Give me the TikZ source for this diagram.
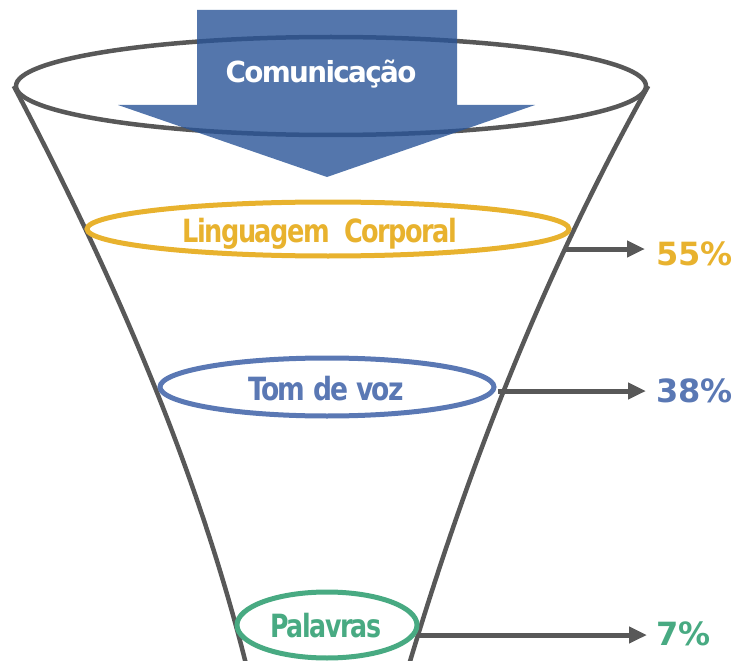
\documentclass[tikz,border=0pt]{standalone}
\usepackage{fontspec}
\setmainfont{DejaVu Sans}
\newfontfamily\tightfont[LetterSpace=-6]{DejaVu Sans}
\usetikzlibrary{shapes.geometric,arrows.meta}
\definecolor{fgray}{RGB}{88,88,88}
\definecolor{arrblue}{RGB}{41,84,151}
\definecolor{cyel}{RGB}{232,178,46}
\definecolor{cblue}{RGB}{90,120,180}
\definecolor{cgreen}{RGB}{72,170,130}
\begin{document}
\begin{tikzpicture}[x=1pt,y=-1pt,
  funnel/.style={draw=fgray,line width=4.5pt},
  ring/.style={ellipse,draw,line width=5pt,inner sep=0pt},
  lbl/.style={font=\tightfont\bfseries\fontsize{32}{36}\selectfont,inner sep=0pt,anchor=base},
  pct/.style={font=\bfseries\fontsize{32}{36}\selectfont,inner sep=0pt,anchor=base west},
  conn/.style={draw=fgray,line width=5pt,-{Triangle[length=18pt,width=16pt]}}]
\useasboundingbox (0,0) rectangle (740,661);
% funnel rim and sides
\node[ellipse,draw=fgray,line width=4.5pt,inner sep=0pt,minimum width=630pt,minimum height=98pt] (rim) at (331,86) {};
\draw[funnel] (rim.west) .. controls (115,278) and (198,471) .. (247,668);
\draw[funnel] (rim.east) .. controls (541,278) and (467,471) .. (408,668);
% big arrow
\path[fill=arrblue,fill opacity=0.8] (197,10) -- (457,10) -- (457,105) -- (535,105) -- (327,177) -- (118,105) -- (197,105) -- cycle;
\node[lbl,text=white,font=\tightfont\bfseries\fontsize{29}{34}\selectfont] (com) at (321,83) {\scalebox{0.96}[1]{Comunicação}};
% rings
\node[ring,draw=cyel,minimum width=482pt,minimum height=54pt] (ling) at (328,229) {};
\node[ring,draw=cblue,minimum width=334pt,minimum height=58pt] (tom) at (327,387) {};
\node[ring,draw=cgreen,minimum width=180pt,minimum height=66pt] (pal) at (327,625) {};
\node[lbl,text=cyel] (lingt) at (320,242) {\scalebox{0.80}[1]{Linguagem\ \ Corporal}};
\node[lbl,text=cblue] (tomt) at (326,400) {\scalebox{0.83}[1]{Tom de voz}};
\node[lbl,text=cgreen] (palt) at (326,637) {\scalebox{0.79}[1]{Palavras}};
% connectors
\coordinate (ys) at (565,249);
\coordinate (ye) at (645,249);
\coordinate (bs) at (498,391);
\coordinate (be) at (646,391);
\coordinate (gs) at (418,635);
\coordinate (ge) at (647,635);
\draw[conn] (ys) -- (ye);
\draw[conn] (bs) -- (be);
\draw[conn] (gs) -- (ge);
\node[pct,text=cyel] (p55) at (656,265) {55\%};
\node[pct,text=cblue] (p38) at (656,402) {38\%};
\node[pct,text=cgreen] (p7) at (656,645) {7\%};
\end{tikzpicture}
\end{document}
